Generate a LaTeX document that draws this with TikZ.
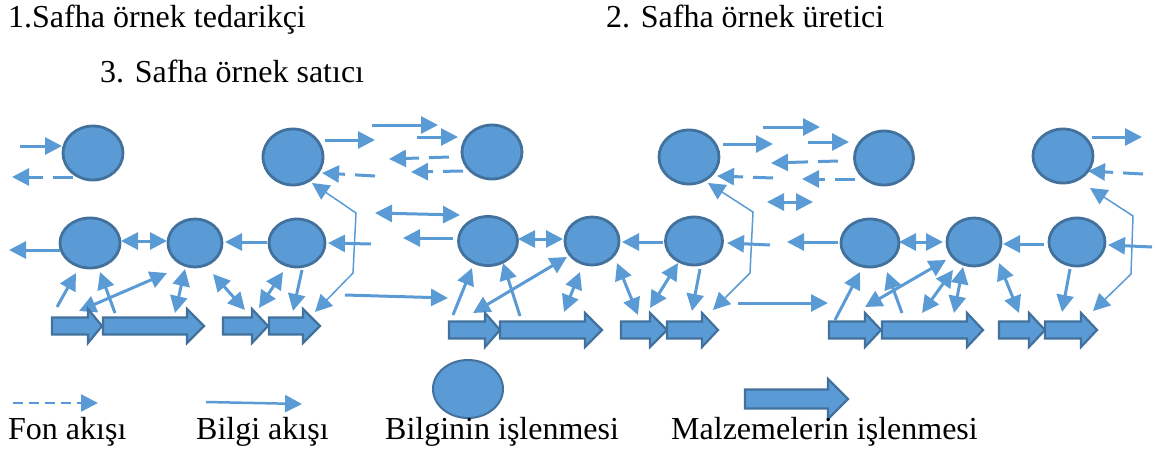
\documentclass[tikz,border=0pt]{standalone}
\usepackage{fontspec}
\setmainfont{Liberation Serif}
\usetikzlibrary{arrows.meta,shapes.geometric}
\definecolor{ablue}{HTML}{5B9BD5}
\definecolor{dblue}{HTML}{41719C}
\newcommand\blockarr[6]{% x0, xh, x1, yc, body half, head half
  \draw[blk] (#1,{#4-#5}) -- (#2,{#4-#5}) -- (#2,{#4-#6}) -- (#3,#4) -- (#2,{#4+#6}) -- (#2,{#4+#5}) -- (#1,{#4+#5}) -- cycle;}
\begin{document}
\begin{tikzpicture}[x=1pt,y=-1pt,
  tip/.tip={Triangle[length=17pt,width=17pt]},
  proc/.style={ellipse,draw=dblue,fill=ablue,line width=2.8pt,inner sep=0pt},
  info/.style={draw=ablue,line width=3pt,-tip},
  both/.style={draw=ablue,line width=3pt,tip-tip},
  fund/.style={draw=ablue,line width=3pt,dash pattern=on 20pt off 10pt,-tip},
  thin/.style={draw=ablue,line width=1.5pt,tip-tip},
  blk/.style={draw=dblue,fill=ablue,line width=2.2pt,line join=miter},
  lbl/.style={anchor=base west,inner sep=0pt,font=\fontsize{32}{36}\selectfont}]
\useasboundingbox (0,0) rectangle (1157,453);

% titles
\node[lbl] (t1) at (8,27) {1.Safha örnek tedarikçi};
\node[lbl] (t2) at (606,27) {2. Safha örnek üretici};
\node[lbl] (t3) at (100,82) {3. Safha örnek satıcı};

% ---------- connectors ----------
% stage 1
\draw[info] (20,146) -- (62,146);
\draw[fund] (73,177) -- (12,177);
\draw[info] (60,250) -- (9,250);
\draw[both] (121,241) -- (167,241);
\draw[info] (267,242) -- (225,242);
\draw[info] (371,244) -- (328,243);
\draw[info] (325,140) -- (375,140);
\draw[fund] (375,176) -- (322,173);
\draw[thin] (312,183) -- (356,213) -- (353,273) -- (315,312);
\draw[info] (345,295) -- (448,298);
\draw[info] (57,307) -- (76,273);
\draw[info] (115,313) -- (100,272);
\draw[both] (79,311) -- (167,273);
\draw[both] (175,313) -- (185,269);
\draw[both] (213,274) -- (245,310);
\draw[both] (259,308) -- (283,272);
\draw[info] (302,270) -- (293,311);
% between 1 and 2
\draw[info] (372,125) -- (438,125);
\draw[info] (417,137) -- (458,137);
\draw[fund] (449,157) -- (389,159);
\draw[fund] (463,171) -- (411,172);
\draw[both] (375,213) -- (460,215);
\draw[info] (453,238) -- (403,238);
% stage 2
\draw[info] (723,144) -- (773,144);
\draw[fund] (773,178) -- (717,176);
\draw[info] (770,245) -- (727,243);
\draw[both] (518,239) -- (563,239);
\draw[info] (663,242) -- (622,242);
\draw[thin] (708,183) -- (753,212) -- (750,273) -- (713,310);
\draw[info] (738,303) -- (828,303);
\draw[info] (453,315) -- (472,268);
\draw[info] (520,316) -- (503,263);
\draw[both] (473,313) -- (567,257);
\draw[both] (564,312) -- (580,272);
\draw[both] (617,263) -- (638,315);
\draw[both] (650,308) -- (678,263);
\draw[info] (700,269) -- (692,311);
% between 2 and 3
\draw[info] (763,127) -- (820,127);
\draw[info] (808,142) -- (849,142);
\draw[fund] (838,161) -- (771,163);
\draw[fund] (855,179) -- (802,179);
\draw[both] (767,202) -- (813,202);
\draw[info] (838,242) -- (787,242);
% stage 3
\draw[info] (1092,137) -- (1142,137);
\draw[fund] (1143,174) -- (1088,171);
\draw[info] (1152,247) -- (1108,245);
\draw[both] (899,242) -- (943,242);
\draw[info] (1044,244) -- (1003,244);
\draw[thin] (1090,188) -- (1133,216) -- (1131,274) -- (1093,311);
\draw[info] (835,320) -- (860,272);
\draw[info] (902,313) -- (887,272);
\draw[both] (865,307) -- (946,260);
\draw[both] (922,313) -- (953,270);
\draw[both] (954,313) -- (963,267);
\draw[both] (999,263) -- (1019,313);
\draw[info] (1070,269) -- (1062,312);

% ---------- processes ----------
\node[proc,minimum width=60pt,minimum height=54pt] (A1) at (93,153) {};
\node[proc,minimum width=60pt,minimum height=56pt] (B1) at (293,157) {};
\node[proc,minimum width=60pt,minimum height=50pt] (C1) at (90,243) {};
\node[proc,minimum width=54pt,minimum height=48pt] (D1) at (195,243) {};
\node[proc,minimum width=56pt,minimum height=48pt] (E1) at (297,243) {};
\node[proc,minimum width=60pt,minimum height=54pt] (A2) at (492,152) {};
\node[proc,minimum width=60pt,minimum height=54pt] (B2) at (689,157) {};
\node[proc,minimum width=59pt,minimum height=49pt] (C2) at (488,241) {};
\node[proc,minimum width=54pt,minimum height=48pt] (D2) at (592,241) {};
\node[proc,minimum width=57pt,minimum height=48pt] (E2) at (694,241) {};
\node[proc,minimum width=59pt,minimum height=54pt] (A3) at (884,158) {};
\node[proc,minimum width=60pt,minimum height=54pt] (B3) at (1063,156) {};
\node[proc,minimum width=58pt,minimum height=48pt] (C3) at (870,243) {};
\node[proc,minimum width=54pt,minimum height=48pt] (D3) at (974,242) {};
\node[proc,minimum width=56pt,minimum height=48pt] (E3) at (1077,242) {};

% ---------- material arrows ----------
\blockarr{52}{88}{102}{326}{8.5}{17}
\blockarr{103}{187}{204}{326}{8.5}{17}
\blockarr{223}{252}{268}{326}{8.5}{17}
\blockarr{269}{303}{320}{326}{8.5}{17}
\blockarr{449}{485}{500}{330}{8.5}{17}
\blockarr{500}{585}{602}{330}{8.5}{17}
\blockarr{621}{650}{667}{330}{8.5}{17}
\blockarr{667}{702}{718}{330}{8.5}{17}
\blockarr{829}{865}{881}{330}{8.5}{17}
\blockarr{882}{967}{983}{330}{8.5}{17}
\blockarr{999}{1029}{1045}{330}{8.5}{17}
\blockarr{1045}{1081}{1097}{330}{8.5}{17}

% ---------- legend ----------
\draw[fund,line width=2.5pt,dash pattern=on 10pt off 6pt] (13,403) -- (98,403);
\draw[info,line width=2.5pt] (206,402) -- (302,404);
\node[proc,line width=2pt,minimum width=70pt,minimum height=58pt] (L) at (468,389) {};
\blockarr{745}{828}{848}{399}{9.5}{20}
\node[lbl] (l1) at (8,439) {Fon akışı};
\node[lbl] (l2) at (196,439) {Bilgi akışı};
\node[lbl] (l3) at (385,439) {Bilginin işlenmesi};
\node[lbl] (l4) at (671,439) {Malzemelerin işlenmesi};
\end{tikzpicture}
\end{document}
